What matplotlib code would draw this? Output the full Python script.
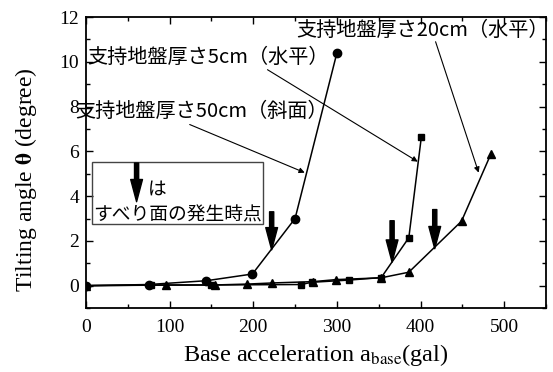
import matplotlib
matplotlib.use("Agg")
import matplotlib.pyplot as plt
from matplotlib.patches import Rectangle
from matplotlib.ticker import MultipleLocator

plt.rcParams['font.family'] = ['Liberation Serif', 'DejaVu Serif']
plt.rcParams['mathtext.fontset'] = 'stix'

# 支持地盤厚さ5cm（水平） - circles
x_5cm = [0, 75, 144, 199, 250, 300]
y_5cm = [0, 0.05, 0.22, 0.52, 3.0, 10.4]

# 支持地盤厚さ50cm（斜面） - squares
x_50cm = [0, 78, 150, 257, 270, 315, 353, 386, 401]
y_50cm = [0, 0.02, 0.03, 0.05, 0.15, 0.25, 0.36, 2.14, 6.65]

# 支持地盤厚さ20cm（水平） - triangles
x_20cm = [0, 96, 154, 193, 223, 272, 299, 353, 386, 449, 484]
y_20cm = [0, 0.03, 0.03, 0.07, 0.12, 0.18, 0.27, 0.35, 0.6, 2.88, 5.87]

# slip surface onset arrows: x, top of arrow, tip of arrow
slip_x = [222, 366, 417]
slip_top = [3.3, 2.9, 3.4]
slip_tip = [1.6, 1.05, 1.65]

jp = ['Noto Sans CJK JP', 'DejaVu Sans']

fig = plt.figure(figsize=(5.53, 3.72), dpi=100)
ax = fig.add_axes([0.1555, 0.172, 0.8318, 0.782])

ax.plot(x_5cm, y_5cm, 'k-o', lw=1.1, ms=6)
ax.plot(x_50cm, y_50cm, 'k-s', lw=1.1, ms=5)
ax.plot(x_20cm, y_20cm, 'k-^', lw=1.1, ms=6)

ax.set_xlim(0, 550)
ax.set_ylim(-1, 12)
ax.xaxis.set_major_locator(MultipleLocator(100))
ax.xaxis.set_minor_locator(MultipleLocator(50))
ax.yaxis.set_major_locator(MultipleLocator(2))
ax.yaxis.set_minor_locator(MultipleLocator(1))
ax.tick_params(which='both', direction='in', top=True, right=True, labelsize=14, width=1)
ax.tick_params(which='major', length=5)
ax.tick_params(axis='x', which='major', pad=8)
ax.tick_params(axis='y', which='major', pad=5)
ax.tick_params(which='minor', length=3)
for s in ax.spines.values():
    s.set_linewidth(1.3)

ax.set_xlabel(r'Base acceleration a$_{\rm base}$(gal)', fontsize=17.5, labelpad=4)
ax.set_ylabel(r'Tilting angle $\mathbf{\theta}$ (degree)', fontsize=17)
ax.yaxis.set_label_coords(-0.102, 0.44)

# thick arrows marking the slip surface onset
big_arrow = dict(arrowstyle='simple,head_width=8.5,head_length=16,tail_width=3',
                 fc='k', ec='k', mutation_scale=1, shrinkA=0, shrinkB=0)
for x, top, tip in zip(slip_x, slip_top, slip_tip):
    ax.annotate('', xy=(x, tip), xytext=(x, top), arrowprops=big_arrow)

# explanation box
ax.add_patch(Rectangle((7.5, 2.75), 204, 2.78, fill=False, ec='#444444', lw=1, zorder=3))
ax.annotate('', xy=(60.5, 3.75), xytext=(60.5, 5.48), arrowprops=big_arrow)
ax.text(74, 4.3, 'は', family=jp, fontsize=13.5, va='center', ha='left')
ax.text(8.5, 3.15, 'すべり面の発生時点', family=jp, fontsize=13.5, va='center', ha='left')

# series labels with pointers
thin = dict(arrowstyle='-|>', lw=0.8, color='k', shrinkA=0, shrinkB=0,
            mutation_scale=8)
ax.text(1, 10.2, '支持地盤厚さ5cm（水平）', family=jp, fontsize=14.5, va='center', ha='left')
ax.annotate('', xy=(396.7, 5.54), xytext=(217, 9.65), arrowprops=thin)

ax.text(-13, 7.8, '支持地盤厚さ50cm（斜面）', family=jp, fontsize=14.5, va='center', ha='left')
ax.annotate('', xy=(261.5, 5.05), xytext=(124, 7.2), arrowprops=thin)

ax.text(251, 11.4, '支持地盤厚さ20cm（水平）', family=jp, fontsize=14.5, va='center', ha='left')
ax.annotate('', xy=(469.5, 5.05), xytext=(418, 10.9), arrowprops=thin)

fig.savefig('out.png', dpi=100)
